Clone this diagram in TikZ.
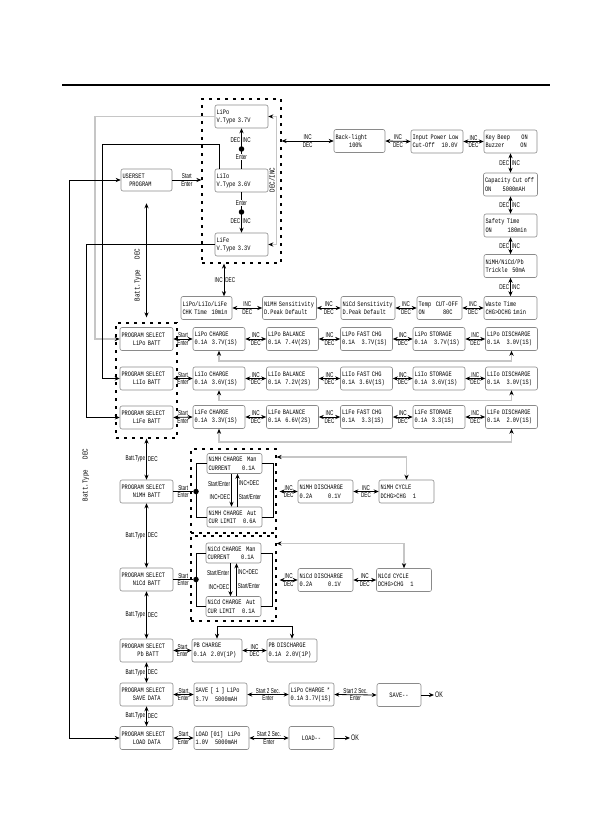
\documentclass[tikz,border=0pt]{standalone}
\usepackage{fontspec}
\newfontfamily\lcdfont[FakeStretch=0.78,HyphenChar=None]{Liberation Mono}
\newfontfamily\keyfont[FakeStretch=0.66]{Liberation Sans}
\usetikzlibrary{arrows.meta,positioning}
\definecolor{rim}{HTML}{8A8A8A}
\definecolor{trace}{HTML}{C6C6C6}
\tikzset{
  >={Stealth[length=5pt,width=4.2pt]},
  lcd/.style    ={draw=rim,rounded corners=2pt,line width=.6pt,
                  font=\lcdfont\fontsize{6.8}{8.4}\selectfont,
                  align=left,text width=49pt,inner sep=1.5pt,minimum height=23pt},
  grp/.style    ={draw,dash pattern=on 3pt off 5pt,line width=1.3pt,inner sep=0pt},
  key/.style    ={font=\keyfont\fontsize{7}{8}\selectfont,inner sep=1pt},
  side/.style   ={font=\lcdfont\fontsize{7.5}{8}\selectfont,rotate=90,inner sep=0pt},
  link/.style   ={<->,line width=.8pt},
  feed/.style   ={->,line width=.6pt},
  back/.style   ={draw=trace,line width=1.6pt},
  backtip/.style ={back,-{Stealth[black,length=5pt,width=4.2pt]}},
  backtips/.style={back,{Stealth[black,length=5pt,width=4.2pt]}-{Stealth[black,length=5pt,width=4.2pt]}},
  dot/.style    ={circle,fill,inner sep=0pt,minimum size=5.5pt},
}

\begin{document}
\begin{tikzpicture}[x=1pt,y=-1pt]
\useasboundingbox (0,0) rectangle (596,840);
\draw[line width=2.2pt] (62,85) -- (550,85);
% user set and voltage types
\node[grp,minimum width=79pt,minimum height=164pt] (vgrp) at (241.5,181) {};
\node[lcd,text width=50pt] (lipov) at (241.5,116.5) {LiPo\\V.Type~3.7V};
\node[lcd,text width=50pt] (liiov) at (241.5,180.5) {LiIo\\V.Type~3.6V};
\node[lcd,text width=50pt] (lifev) at (241.5,244.5) {LiFe\\V.Type~3.3V};
\node[lcd,text width=48pt,minimum height=22pt] (userset) at (146.5,180) {USERSET\\~~~PROGRAM};
\draw[feed,line width=.8pt] (userset.east) -- node[key,above]{Start} node[key,below]{Enter} (vgrp.west |- userset.east);
\coordinate (vup) at (241.5,149);
\coordinate (vdn) at (241.5,212);
\draw[feed,line width=.8pt] (liiov.north) -- (lipov.south);
\draw[feed,line width=.8pt] (liiov.south) -- (lifev.north);
\node[key,fill=white] at ([yshift=-8pt]vup) {Enter};
\node[key,fill=white] at ([yshift=9pt]vdn) {Enter};
\node[dot] at (vup) {};
\node[dot] at (vdn) {};
\node[key,left] at ([yshift=9pt]vup) {DEC};
\node[key,right] at ([yshift=9pt]vup) {INC};
\node[key,left] at ([yshift=-9pt]vdn) {DEC};
\node[key,right] at ([yshift=-9pt]vdn) {INC};
\draw[backtips] (lipov.east) -- ++(8,0) |- (lifev.east);
\node[side] at (272,180) {DEC/INC};
% system settings
\node[lcd,text width=48pt] (backlight) at (359.5,141) {Back-light\\~~~~~~100\%};
\node[lcd] (inputlow) at (437,141.5) {Input Power Low\\Cut-Off~~~10.0V};
\node[lcd,text width=50pt] (keybeep) at (510.5,141.5) {Key Beep~~~~~ON\\Buzzer~~~~~~~ON};
\node[lcd,text width=51pt] (capcut) at (510.5,184.5) {Capacity Cut off\\ON~~~~~5000mAH};
\node[lcd,text width=50pt] (safety) at (510.5,225.5) {Safety Time\\ON~~~~~~~180min};
\node[lcd,text width=50pt] (trickle) at (510.5,266) {NiMH/NiCd/Pb\\Trickle~~50mA};
\node[lcd,text width=50pt] (waste) at (510.5,308) {Waste Time\\CHG>DCHG~1min};
\node[lcd,text width=42pt] (temp) at (439.5,308) {Temp~~CUT-OFF\\ON~~~~~~~~80C};
\node[lcd,text width=51pt] (nicdsens) at (368,308) {NiCd Sensitivity\\D.Peak Default};
\node[lcd,text width=51pt] (nimhsens) at (289.5,308) {NiMH Sensitivity\\D.Peak Default};
\node[lcd,text width=48pt] (chktime) at (206.5,308) {LiPo/LiIo/LiFe\\CHK Time~~10min};
\draw[link,line width=.6pt] (vgrp.east |- backlight.west) -- node[key,above]{INC} node[key,below]{DEC} (backlight.west);
\foreach \a/\b in {backlight/inputlow,inputlow/keybeep,chktime/nimhsens,nimhsens/nicdsens,nicdsens/temp,temp/waste}
  \draw[link] (\a.east) -- node[key,above]{INC} node[key,below]{DEC} (\b.west);
\foreach \a/\b in {keybeep/capcut,capcut/safety,safety/trickle,trickle/waste}
  \draw[link] (\a.south) -- node[key,left]{DEC} node[key,right]{INC} (\b.north);
\coordinate (chktop) at ([xshift=17.5pt]chktime.north);
\draw[link] (vgrp.south -| chktop) -- node[key,left]{INC} node[key,right]{DEC} (chktop);
% lithium programs
\node[grp,minimum width=61pt,minimum height=115pt] (battgrp) at (146.5,380.5) {};
\node[lcd,text width=50pt] (lipobatt) at (146.5,339) {PROGRAM SELECT\\~~~~~LiPo BATT};
\node[lcd,text width=50pt] (liiobatt) at (146.5,378.5) {PROGRAM SELECT\\~~~~~LiIo BATT};
\node[lcd,text width=50pt] (lifebatt) at (146.5,417.5) {PROGRAM SELECT\\~~~~~LiFe BATT};
\node[lcd] (lipochg) at (219,339) {LiPo CHARGE\\0.1A~~3.7V(1S)};
\node[lcd] (lipobal) at (292.5,339) {LiPo BALANCE\\0.1A~~7.4V(2S)};
\node[lcd] (lipofast) at (366.5,339) {LiPo FAST CHG\\0.1A~~~3.7V(1S)};
\node[lcd] (lipostor) at (439,339) {LiPo STORAGE\\0.1A~~~3.7V(1S)};
\node[lcd] (lipodis) at (511.5,339) {LiPo DISCHARGE\\0.1A~~~3.0V(1S)};
\node[lcd] (liiochg) at (219,378.5) {LiIo CHARGE\\0.1A~~3.6V(1S)};
\node[lcd] (liiobal) at (292.5,378.5) {LiIo BALANCE\\0.1A~~7.2V(2S)};
\node[lcd] (liiofast) at (366.5,378.5) {LiIo FAST CHG\\0.1A~~3.6V(1S)};
\node[lcd] (liiostor) at (439,378.5) {LiIo STORAGE\\0.1A~~3.6V(1S)};
\node[lcd] (liiodis) at (511.5,378.5) {LiIo DISCHARGE\\0.1A~~~3.0V(1S)};
\node[lcd] (lifechg) at (219,417) {LiFe CHARGE\\0.1A~~3.3V(1S)};
\node[lcd] (lifebal) at (292.5,417) {LiFe BALANCE\\0.1A~~6.6V(2S)};
\node[lcd] (lifefast) at (366.5,417) {LiFe FAST CHG\\0.1A~~~3.3(1S)};
\node[lcd] (lifestor) at (439,417) {LiFe STORAGE\\0.1A~~3.3(1S)};
\node[lcd] (lifedis) at (511.5,417) {LiFe DISCHARGE\\0.1A~~~2.0V(1S)};
\foreach \r in {lipo,liio,life}{
  \draw[link] (\r batt.east) -- node[key,above]{Start} node[key,below]{Enter} (\r chg.west);
  \foreach \a/\b in {chg/bal,bal/fast,fast/stor,stor/dis}
    \draw[link] (\r\a.east) -- node[key,above]{INC} node[key,below]{DEC} (\r\b.west);
}
\draw[backtips] (lipochg.south) -- ++(0,10) -| (lipodis.south);
\draw[backtips] (liiochg.south) -- ++(0,10) -| (liiodis.south);
\draw[backtips] (lifechg.south) -- ++(0,13) -| (lifedis.south);
\draw[backtip] (lipov.west) -- ++(-120,0) |- (lipobatt.west);
\draw[feed] ([xshift=5pt]liiov.north west) -- ++(0,-24) -- ++(-117,0) |- (liiobatt.west);
\draw[feed] (lifev.west) -- ++(-128,0) |- (lifebatt.west);
\draw[link] ([yshift=-12pt]userset.south) -- ([yshift=5pt]battgrp.north);
\node[side] at (138,275) {Batt.Type~~~DEC};
\node[side] at (86,475) {Batt.Type~~~DEC};
% nickel programs
\node[lcd,text width=50pt] (nimhbatt) at (146.5,491.5) {PROGRAM SELECT\\~~~~~NiMH BATT};
\node[grp,minimum width=85pt,minimum height=84pt] (nimhgrp) at (233.5,491) {};
\node[lcd,text width=52pt,minimum height=20pt] (nimhman) at (234.5,463.5) {NiMH CHARGE~~Man\\CURRENT~~~~~0.1A};
\node[lcd,text width=52pt,minimum height=20pt] (nimhaut) at (234.5,517) {NiMH CHARGE~~Aut\\CUR LIMIT~~~0.6A};
\node[dot] (nimhjoin) at (196,491.5) {};
\node[lcd,text width=52pt] (nimhdis) at (325.5,491.5) {NiMH DISCHARGE\\0.2A~~~~~~~0.1V};
\node[lcd,text width=52pt] (nimhcyc) at (406.5,491.5) {NiMH CYCLE\\DCHG>CHG~~~1};
\node[lcd,text width=50pt] (nicdbatt) at (146.5,579.5) {PROGRAM SELECT\\~~~~~NiCd BATT};
\node[grp,minimum width=85pt,minimum height=85pt] (nicdgrp) at (233.5,578.5) {};
\node[lcd,text width=52pt,minimum height=20pt] (nicdman) at (233.5,553) {NiCd CHARGE~~Man\\CURRENT~~~~~0.1A};
\node[lcd,text width=52pt,minimum height=20pt] (nicdaut) at (233.5,606.5) {NiCd CHARGE~~Aut\\CUR LIMIT~~~0.1A};
\node[dot] (nicdjoin) at (196,579.5) {};
\node[lcd,text width=52pt] (nicddis) at (325.5,580) {NiCd DISCHARGE\\0.2A~~~~~~~0.1V};
\node[lcd,text width=52pt] (nicdcyc) at (404,580) {NiCd CYCLE\\DCHG>CHG~~~1};
\foreach \r in {nimh,nicd}{
  \draw[line width=.7pt] (\r batt.east) -- node[key,above]{Start} node[key,below]{Enter} (\r join);
  \draw[line width=.7pt] (\r man.west) -| (\r join) |- (\r aut.west);
  \draw[line width=.7pt] (\r man.east) -- ++(11,0) |- (\r aut.east);
  \draw[feed,line width=.8pt] ([xshift=-3pt]\r man.south) -- node[key,left,pos=.3]{Start/Enter} node[key,left,pos=.72]{INC+DEC} ([xshift=-3pt]\r aut.north);
  \draw[feed,line width=.8pt] ([xshift=3pt]\r aut.north) -- node[key,right,pos=.3]{Start/Enter} node[key,right,pos=.72]{INC+DEC} ([xshift=3pt]\r man.south);
  \draw[link] ([xshift=3pt]\r grp.east |- \r dis.west) -- node[key,above]{INC} node[key,below]{DEC} (\r dis.west);
  \draw[link] (\r dis.east) -- node[key,above]{INC} node[key,below]{DEC} (\r cyc.west);
}
\draw[backtips] ([yshift=34pt]nimhgrp.east) -| (nimhcyc.north);
\draw[backtips] ([yshift=35pt]nicdgrp.east) -| (nicdcyc.north);
% lead, save and load
\node[lcd,text width=50pt] (pbbatt) at (146.5,650.5) {PROGRAM SELECT\\~~~~~~~Pb BATT};
\node[lcd,text width=47pt] (pbchg) at (217,650.5) {PB CHARGE\\0.1A~~2.0V(1P)};
\node[lcd,text width=47pt] (pbdis) at (292,650.5) {PB DISCHARGE\\0.1A~~2.0V(1P)};
\draw[link] (pbbatt.east) -- node[key,above]{Start} node[key,below]{Enter} (pbchg.west);
\draw[link] (pbchg.east) -- node[key,above]{INC} node[key,below]{DEC} (pbdis.west);
\draw[link] (pbchg.north) -- ++(0,-12) -| (pbdis.north);
\node[lcd,text width=50pt] (savebatt) at (146.5,694.5) {PROGRAM SELECT\\~~~~~SAVE DATA};
\node[lcd,text width=50pt] (saveone) at (220.5,694.5) {SAVE [ 1 ] LiPo\\3.7V~~~5000mAH};
\node[lcd,text width=42pt] (savechg) at (311.5,694.5) {LiPo CHARGE *\\0.1A 3.7V(1S)};
\node[lcd,text width=41pt,align=center] (savebusy) at (399,695) {SAVE--};
\node[key,font=\keyfont\fontsize{8}{9}\selectfont] (saveok) at (439,695) {OK};
\node[lcd,text width=50pt] (loadbatt) at (146.5,738) {PROGRAM SELECT\\~~~~~LOAD DATA};
\node[lcd,text width=52pt] (loadone) at (221.5,738) {LOAD [01]~~LiPo\\1.0V~~~5000mAH};
\node[lcd,text width=42pt,align=center] (loadbusy) at (311.5,738) {LOAD--};
\node[key,font=\keyfont\fontsize{8}{9}\selectfont] (loadok) at (355,738) {OK};
\draw[link] (savebatt.east) -- node[key,above]{Start} node[key,below]{Enter} (saveone.west);
\draw[link] (saveone.east) -- node[key,above]{Start 2 Sec.} node[key,below]{Enter} (savechg.west);
\draw[link] (savechg.east) -- node[key,above]{Start 2 Sec.} node[key,below]{Enter} (savebusy.west);
\draw[->,line width=.8pt] (savebusy.east) -- (saveok.west);
\draw[link] (loadbatt.east) -- node[key,above]{Start} node[key,below]{Enter} (loadone.west);
\draw[link] (loadone.east) -- node[key,above]{Start 2 Sec.} node[key,below]{Enter} (loadbusy.west);
\draw[->,line width=.8pt] (loadbusy.east) -- (loadok.west);
\draw[link,line width=.6pt] (userset.west) -- ++(-51,0) |- (loadbatt.west);
\draw[link] (battgrp.south) -- node[key,left]{Batt.Type} node[key,right]{DEC} (nimhbatt.north);
\foreach \a/\b in {nimhbatt/nicdbatt,nicdbatt/pbbatt,pbbatt/savebatt,savebatt/loadbatt}
  \draw[link] (\a.south) -- node[key,left]{Batt.Type} node[key,right]{DEC} (\b.north);
\end{tikzpicture}
\end{document}
